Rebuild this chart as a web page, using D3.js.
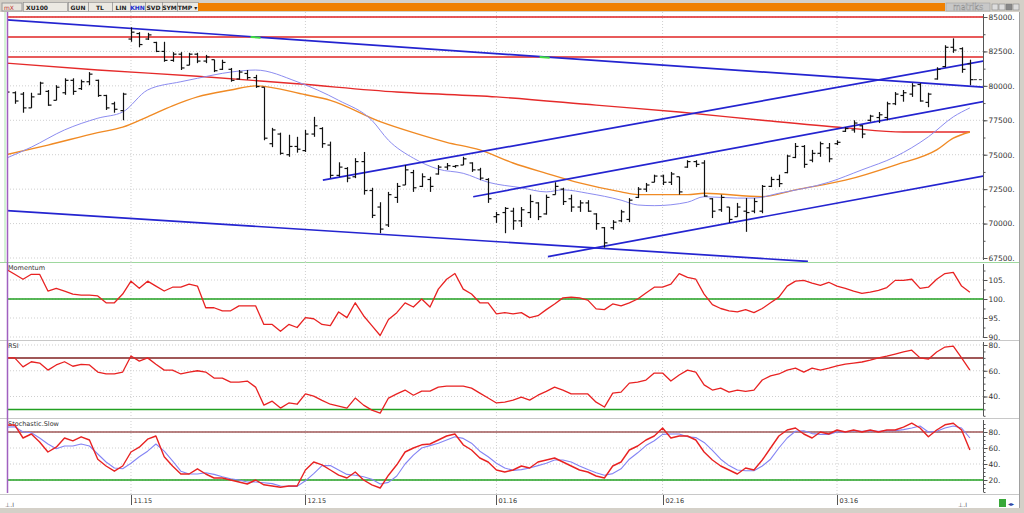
<!DOCTYPE html>
<html>
<head>
<meta charset="utf-8">
<script src="https://cdn.jsdelivr.net/npm/d3@7/dist/d3.min.js"></script>
<style>
    body {margin: 0; background: #d4d0c8; overflow: hidden;}
    svg {display: block; font-family: "DejaVu Sans", Verdana, sans-serif;}
</style>
</head>
<body>
<svg id="chart" width="1024" height="513"></svg>
<script>
// ---- data ----
var monthLabels = ["11.15", "12.15", "01.16", "02.16", "03.16"];
var monthIdx = [15, 36, 59, 79, 100];

var opens = [79350,79500,79400,78400,79400,79600,78950,79500,80400,79800,80300,80400,79300,78700,78200,
    83400,83800,83400,83150,82500,81850,82300,81500,82300,81800,81900,81200,81200,80500,80900,80600,79900,75800,76500,75000,
    75600,75300,76500,76900,75700,73500,74000,73400,74500,72400,71200,69900,71900,72800,73700,72700,73200,73600,74100,74150,
    74250,74400,73900,73200,70500,70800,70900,70200,70800,71500,70700,72100,72500,71800,71200,71500,70700,69700,69700,70200,
    70300,71900,72500,73000,73450,73000,73400,74100,74500,74400,71800,71000,71200,70500,70900,70900,70900,72700,73200,73700,
    74800,75600,74600,75100,75500,75800,76700,76800,77100,77500,77700,77700,78700,79300,79400,80100,78800,80500,81400,82800,
    82700,81600];
var highs = [79700,79600,79550,79500,80300,79700,80050,80550,80550,80450,81000,80450,79350,78850,79500,
    84250,83900,83850,83200,83200,82450,82450,82400,82400,82250,81900,81900,81300,81150,81150,80800,79900,76950,76600,76450,
    76300,76800,77750,77000,75950,74450,74100,74750,75200,72600,71550,72300,72950,74250,73900,73650,73400,74250,74400,74250,
    74850,74450,74050,73300,70850,71200,71150,71200,72100,71550,72100,73000,72600,72100,71700,71700,70750,69750,70250,71000,
    71850,72650,72950,73550,73550,73750,73400,74600,74600,74600,71850,72100,71200,71500,71850,71850,72800,73400,73550,75000,
    75850,75700,75350,75950,75850,76050,77000,77500,77150,77900,78100,78850,79550,79700,80200,80200,79500,81350,82950,83450,
    82800,81900];
var lows = [78950,78700,78050,78400,79350,78550,78950,79350,79350,79700,80050,79200,78250,78050,77500,
    83200,82800,83330,82450,81750,81750,81150,81500,81650,81650,81000,81150,80300,80450,80450,79850,76050,75550,75000,74850,
    75150,75200,76300,75500,73300,73400,73000,73300,72100,70400,69300,69750,71500,72800,72300,72650,72300,73550,73900,74050,
    74250,73750,73150,71500,70050,69300,69550,69750,70400,70250,70650,72100,71350,70850,70850,70850,69550,68250,69550,70100,
    70100,71850,72300,73000,72800,72800,72100,74050,74100,71950,70400,70850,70050,70500,69400,70750,70750,72650,72650,73650,
    74750,74050,74450,74850,74450,75700,76650,76600,76200,77400,77300,77500,78600,78850,79200,78850,78450,80450,81350,82400,
    80950,80050];
var closes = [79550,78900,78400,79200,80200,78600,79900,80400,79600,80300,80850,79300,78400,78300,79400,
    83900,83000,83700,82500,81850,82300,81300,82300,81800,82100,81100,81700,80400,81000,80600,79950,76200,76800,75100,75600,
    75400,76500,77100,75800,73500,74100,73300,74500,72400,70600,69600,72100,72700,73900,72600,73400,72700,74100,74200,74200,
    74700,73900,73300,71800,70650,71100,70200,71000,71600,70500,71900,72700,71600,71200,71500,70900,70000,68600,70100,70850,
    71700,72500,72800,73450,73000,73600,72300,74500,74300,72000,70900,71900,70300,71200,70800,71600,72700,73200,72900,74900,
    75600,74300,75100,75800,74700,75900,76900,77300,76500,77800,77900,78700,79400,79500,80000,78900,79400,81200,82800,82600,
    81200,80450];

// moving averages: [bar index] -> value
var maFastIdx = [0,3,7,11,14,17,21,23,27,30,35,40,44,46,49,52,55,58,62,65,67,70,74,76,78,82,84,88,90,93,99,103,107,111,114,116];
var maFast = [74750,75550,76800,77650,78100,79700,80300,80550,81000,81150,80300,78950,77500,76050,74750,73950,73650,73000,72600,72300,
    72450,72200,71700,71350,71300,71550,71950,71850,71850,72200,73000,73900,74850,76300,77750,78400];
var maMidIdx = [0,5,11,14,17,20,23,27,30,36,39,45,49,53,57,61,65,69,74,76,82,84,91,95,101,107,112,114,116];
var maMid = [75000,75700,76600,77000,77750,78550,79200,79700,80000,79350,78950,77400,76600,75900,75350,74400,73650,72950,72300,72100,
    72100,72200,71950,72450,73150,74250,75350,76200,76650];
var maSlowIdx = [0,11,23,35,47,59,71,81,91,101,108,116];
var maSlow = [81650,81150,80700,80150,79550,79200,78600,78100,77500,76950,76650,76650];

// trend lines and levels
var trendLines = [
    [[0, 84800], [117.6, 79900]],
    [[0, 70950], [96.5, 67250]],
    [[38.1, 73150], [117.6, 81800]],
    [[56.2, 71950], [117.6, 78850]],
    [[65.2, 67600], [117.6, 73450]]
];
var levels = [85000, 83550, 82100];

var momentum = [107.8,106.5,105.2,106.5,106.5,102.1,102.8,102.1,101.3,101.0,101.0,100.8,99.0,99.0,101.3,
    104.7,102.8,104.7,103.4,102.1,103.1,103.1,103.9,103.4,97.7,97.7,96.9,96.9,98.2,98.2,98.2,93.3,93.3,91.5,93.3,
    92.5,95.1,94.8,93.3,93.0,96.6,95.1,99.0,95.6,93.0,90.4,94.6,96.4,99.0,97.9,100.0,97.9,102.6,105.2,106.7,
    102.6,101.3,99.0,99.0,96.1,96.4,96.1,96.4,95.1,95.6,97.2,98.7,100.3,100.5,100.3,99.7,97.4,97.2,98.7,98.2,
    99.0,100.0,101.6,103.1,103.1,103.9,106.7,105.7,105.2,101.3,98.5,97.5,96.9,96.6,97.2,96.4,97.5,99.0,100.5,103.4,
    104.7,104.9,104.2,103.6,104.4,103.4,102.8,102.1,101.5,101.8,102.3,103.0,104.9,104.9,105.2,102.8,103.1,105.2,106.7,107.0,
    103.4,101.8];
var rsi = [70,70,63,67,66,60.5,64.5,67,63.5,65,64.5,59,57.5,57.5,59,
    71.5,67.5,70,65,60.5,60.5,57.5,59,60,59,54.3,54.3,51.2,51.2,52,47.3,33.3,36.4,31,35,
    34,42,40.3,37,34,32.5,31,38.8,33.3,29.4,27.1,38.8,42,45,41,44.2,44.2,47.3,48,48,
    48,46.5,42.6,38.8,35,35.6,37.2,39.5,37.2,41,44,47.3,45,42,42,42,35.6,31.8,42.6,43.4,
    50.4,51.2,52.8,58.2,58.2,52,56.7,60.5,59,49,45,46.5,43.4,45,44,45,52.8,56,57.5,60.5,
    62,59,62,60.5,62,63.7,65.2,66,66.8,68.3,70,71.4,73,74.6,76,70,69,74.6,78.4,79.2,
    70,60.5];
var stochK = [88.8,88.8,72.5,77.5,67.5,55,61,72.5,69,74,70,46,37.5,31,37.5,
    55,61,71,75,49,37.5,27.5,27.5,34,27.5,22.5,22.5,20,17.5,15,20,14,12.5,11,12.5,
    12.5,32.5,42.5,39,32.5,26,22.5,30,20,14,10,26,39,55,60,64,65,70,75,77.5,
    64,57.5,47.5,42.5,32.5,30,32.5,37.5,35,42.5,45,47.5,42.5,37.5,32.5,30,25,22.5,37.5,42.5,
    57.5,62.5,70,75,85,72.5,75,75,70,55,45,37.5,32.5,27.5,35,32.5,45,60,75,82.5,
    85,77.5,72.5,80,77.5,82.5,80,82.5,80,82.5,80,82.5,82.5,86,91,85,74,82.5,89,91,
    82.5,57.5];
var stochD = [86,86.5,80,79,72.5,65,59,62.5,62.5,65,62.5,52.5,42.5,35,34,
    41,49,56,65,56,44,31,27.5,27.5,29,27,24,21.5,20,17.5,17.5,16.5,15.5,12.5,12,
    12,19,28,38,38,32.5,27,26,24,21,15,17,25,40,51,60,63,66,70,74,
    72,66,56,49,41,35,32,33,35,38,41,45,45,42.5,37.5,33,29,26,28,34,
    46,54,63,69,77,77.5,77.5,74,73,67,57,46,38,32.5,31.5,31.5,37.5,46,60,72.5,
    81,81.5,78,77,77,80,80,81.5,81,81.5,81,81.5,81.5,83,85,87.5,80,81,85,87.5,
    85,72.5];

var mainTicks = [67500, 70000, 72500, 75000, 77500, 80000, 82500, 85000];
var momTicks = [90, 95, 100, 105];
var rsiTicks = [40, 60, 80];
var stochTicks = [20, 40, 60, 80];

// ---- layout ----
var svg = d3.select("#chart");
var plotL = 7, plotR = 983, frameR = 1019;
var nBars = closes.length;
var x = d3.scaleLinear().domain([0, nBars - 1]).range([6.4, 969.9]);
var barIdx = d3.range(nBars);

var panels = [
    {top: 12, bottom: 262, y: d3.scaleLinear().domain([67500, 85000]).range([258, 17]), ticks: mainTicks, minor: 1250},
    {top: 262, bottom: 340, y: d3.scaleLinear().domain([90, 105]).range([337, 280]), ticks: momTicks, minor: 2.5, label: "Momentum"},
    {top: 340, bottom: 418, y: d3.scaleLinear().domain([40, 80]).range([396.5, 345]), ticks: rsiTicks, minor: 5, label: "RSI"},
    {top: 418, bottom: 494, y: d3.scaleLinear().domain([20, 80]).range([480, 432]), ticks: stochTicks, minor: 5, label: "Stochastic.Slow"}
];

// window background
svg.append("rect").attr("x", 0).attr("y", 12).attr("width", frameR).attr("height", 496).attr("fill", "#fff");
svg.append("line").attr("x1", frameR + 0.5).attr("x2", frameR + 0.5).attr("y1", 12).attr("y2", 508)
    .attr("stroke", "#a0a0a0");

// toolbar
var bar = svg.append("g");
bar.append("rect").attr("x", 0).attr("y", 0).attr("width", 1024).attr("height", 12).attr("fill", "#d4d0c8");
bar.append("rect").attr("x", 2).attr("y", 3).attr("width", 20).attr("height", 8).attr("fill", "#e8e4dc").attr("stroke", "#999");
bar.append("text").attr("x", 4).attr("y", 9.5).attr("font-size", 6).attr("fill", "#c03030").text("mX");
var buttons = [[23, 44, "XU100"], [68, 20, "GUN"], [88, 24, "TL"], [112, 18, "LIN"], [130, 15, "KHN"], [145, 17, "SVD"], [162, 15, "SYM"], [177, 21, "TMP ▾"]];
buttons.forEach(function (b) {
    bar.append("rect").attr("x", b[0] + 0.5).attr("y", 2.5).attr("width", b[1]).attr("height", 9)
        .attr("fill", "#ece9e2").attr("stroke", "#8c8c8c").attr("stroke-width", 0.6);
    bar.append("text").attr("x", b[2] == "XU100" ? b[0] + 3 : b[0] + b[1] / 2).attr("y", 9.6)
        .attr("text-anchor", b[2] == "XU100" ? "start" : "middle")
        .attr("font-size", 6).attr("font-weight", "bold")
        .attr("fill", b[2] == "KHN" ? "#2030d0" : "#222").text(b[2]);
});
bar.append("rect").attr("x", 198).attr("y", 3).attr("width", 747).attr("height", 8).attr("fill", "#f08000");
bar.append("rect").attr("x", 946).attr("y", 3).attr("width", 44).attr("height", 8).attr("fill", "#c8c8c8").attr("stroke", "#999").attr("stroke-width", 0.5);
bar.append("text").attr("x", 968).attr("y", 10).attr("text-anchor", "middle").attr("font-size", 8)
    .attr("fill", "#eee").attr("stroke", "#888").attr("stroke-width", 0.4).text("matriks");
[992, 999, 1006, 1013].forEach(function (bx, i) {
    bar.append("rect").attr("x", bx).attr("y", 4).attr("width", 6).attr("height", 6)
        .attr("fill", i == 2 ? "#888" : "#ddd").attr("stroke", "#777").attr("stroke-width", 0.5);
});

// panels: frame, grid, axis
panels.forEach(function (p, k) {
    var g = svg.append("g");
    g.append("line").attr("x1", 0).attr("x2", frameR).attr("y1", p.bottom + 0.5).attr("y2", p.bottom + 0.5)
        .attr("stroke", k == 0 ? "#9ed89e" : "#c8c8c8");
    p.ticks.forEach(function (t) {
        g.append("line").attr("x1", plotL).attr("x2", plotR).attr("y1", p.y(t)).attr("y2", p.y(t))
            .attr("stroke", "#cfcfcf").attr("stroke-dasharray", "1,2");
    });
    monthIdx.forEach(function (m) {
        g.append("line").attr("x1", x(m)).attr("x2", x(m)).attr("y1", p.top).attr("y2", p.bottom)
            .attr("stroke", "#cfcfcf").attr("stroke-dasharray", "1,2");
    });
    // right axis
    g.append("line").attr("x1", plotR + 0.5).attr("x2", plotR + 0.5).attr("y1", p.top + 2).attr("y2", p.bottom - 2)
        .attr("stroke", "#555");
    var lo = p.y.invert(p.bottom - 2), hi = p.y.invert(p.top + 2);
    var minor = d3.range(Math.ceil(lo / p.minor) * p.minor, hi, p.minor);
    g.append("g").attr("transform", "translate(" + (plotR + 0.5) + ",0)")
        .call(d3.axisRight(p.y).tickValues(minor).tickSize(2).tickFormat(""))
        .call(function (a) { a.select(".domain").remove(); a.selectAll("line").attr("stroke", "#555"); });
    g.append("g").attr("transform", "translate(" + (plotR + 0.5) + ",0)")
        .call(d3.axisRight(p.y).tickValues(p.ticks).tickSize(4).tickPadding(1).tickFormat(function (d) { return d + "."; }))
        .call(function (a) {
            a.select(".domain").remove();
            a.selectAll("line").attr("stroke", "#555");
            a.selectAll("text").attr("font-size", 7.5).attr("fill", "#333").attr("font-family", "DejaVu Sans");
        });
    if (p.label) {
        g.append("text").attr("x", 8).attr("y", p.top + 8).attr("font-size", 6.5).attr("fill", "#333").text(p.label);
    }
    svg.append("clipPath").attr("id", "clip" + k).append("rect")
        .attr("x", plotL).attr("y", p.top + 1).attr("width", plotR - plotL).attr("height", p.bottom - p.top - 1);
    p.g = svg.append("g").attr("clip-path", "url(#clip" + k + ")");
});

function drawSeries(g, idx, vals, y, color, width, curve) {
    var line = d3.line().x(function (d, i) { return x(idx[i]); }).y(function (d) { return y(d); })
        .curve(curve || d3.curveLinear);
    g.append("path").datum(vals).attr("d", line).attr("fill", "none")
        .attr("stroke", color).attr("stroke-width", width).attr("stroke-linejoin", "round");
}

// ---- main price panel ----
var main = panels[0], ym = main.y, gm = main.g;
levels.forEach(function (v) {
    gm.append("line").attr("x1", plotL).attr("x2", plotR).attr("y1", ym(v)).attr("y2", ym(v))
        .attr("stroke", "#e02424").attr("stroke-width", 1.4);
});
drawSeries(gm, maSlowIdx, maSlow, ym, "#e52a2a", 1.4, d3.curveMonotoneX);
drawSeries(gm, maMidIdx, maMid, ym, "#f08a24", 1.4, d3.curveMonotoneX);
drawSeries(gm, maFastIdx, maFast, ym, "#8c8cf0", 1, d3.curveMonotoneX);
trendLines.forEach(function (t) {
    gm.append("line").attr("x1", x(t[0][0])).attr("y1", ym(t[0][1])).attr("x2", x(t[1][0])).attr("y2", ym(t[1][1]))
        .attr("stroke", "#2424d0").attr("stroke-width", 1.7);
});
// green marks where the top trend line crosses the levels
[83550, 82100].forEach(function (v) {
    var t = trendLines[0];
    var f = (v - t[0][1]) / (t[1][1] - t[0][1]);
    var xi = x(t[0][0] + f * (t[1][0] - t[0][0]));
    gm.append("line").attr("x1", xi - 5).attr("x2", xi + 5).attr("y1", ym(v)).attr("y2", ym(v) + 0.7)
        .attr("stroke", "#40e040").attr("stroke-width", 2);
});
var ohlc = gm.append("g").attr("stroke", "#111").attr("stroke-width", 1.2);
barIdx.forEach(function (i) {
    var cx = Math.round(x(i)) + 0.5;
    ohlc.append("line").attr("x1", cx).attr("x2", cx).attr("y1", ym(highs[i])).attr("y2", ym(lows[i]));
    ohlc.append("line").attr("x1", cx - 3).attr("x2", cx).attr("y1", ym(opens[i])).attr("y2", ym(opens[i]));
    ohlc.append("line").attr("x1", cx).attr("x2", cx + 3).attr("y1", ym(closes[i])).attr("y2", ym(closes[i]));
});
// last price marker
gm.append("line").attr("x1", x(nBars - 1) + 4).attr("x2", plotR).attr("y1", ym(closes[nBars - 1])).attr("y2", ym(closes[nBars - 1]))
    .attr("stroke", "#333").attr("stroke-dasharray", "3,2");

// ---- indicator panels ----
var pm = panels[1];
pm.g.append("line").attr("x1", plotL).attr("x2", plotR).attr("y1", pm.y(100)).attr("y2", pm.y(100))
    .attr("stroke", "#22a022").attr("stroke-width", 1.5);
drawSeries(pm.g, barIdx, momentum, pm.y, "#e82222", 1.3);

var pr = panels[2];
pr.g.append("line").attr("x1", plotL).attr("x2", plotR).attr("y1", pr.y(70)).attr("y2", pr.y(70))
    .attr("stroke", "#a05858").attr("stroke-width", 2);
pr.g.append("line").attr("x1", plotL).attr("x2", plotR).attr("y1", pr.y(30)).attr("y2", pr.y(30))
    .attr("stroke", "#22a022").attr("stroke-width", 1.5);
drawSeries(pr.g, barIdx, rsi, pr.y, "#e82222", 1.3);

var ps = panels[3];
ps.g.append("line").attr("x1", plotL).attr("x2", plotR).attr("y1", ps.y(80)).attr("y2", ps.y(80))
    .attr("stroke", "#a05858").attr("stroke-width", 1.5);
ps.g.append("line").attr("x1", plotL).attr("x2", plotR).attr("y1", ps.y(20)).attr("y2", ps.y(20))
    .attr("stroke", "#22a022").attr("stroke-width", 1.5);
drawSeries(ps.g, barIdx, stochD, ps.y, "#8484f4", 1.1);
drawSeries(ps.g, barIdx, stochK, ps.y, "#e82222", 1.4);

// left edge marker
svg.append("line").attr("x1", 7.5).attr("x2", 7.5).attr("y1", 12).attr("y2", 493).attr("stroke", "#a060c0").attr("stroke-width", 1.5);
svg.append("line").attr("x1", 5).attr("x2", 5).attr("y1", 12).attr("y2", 262).attr("stroke", "#a8e8a8");

// ---- date axis ----
var ax = svg.append("g");
monthIdx.forEach(function (m, i) {
    var mx = Math.round(x(m)) + 0.5;
    ax.append("line").attr("x1", mx).attr("x2", mx).attr("y1", 495).attr("y2", 505).attr("stroke", "#555");
    ax.append("text").attr("x", mx + 2).attr("y", 503).attr("font-size", 6.5).attr("fill", "#333").text(monthLabels[i]);
});
ax.append("text").attr("x", 5).attr("y", 507).attr("font-size", 6).attr("fill", "#555").text("⊥.I");
ax.append("text").attr("x", 958).attr("y", 507).attr("font-size", 6).attr("fill", "#555").text("⊥.I");
ax.append("rect").attr("x", 999).attr("y", 499).attr("width", 7).attr("height", 8).attr("fill", "#38a838");
ax.append("text").attr("x", 1008).attr("y", 506).attr("font-size", 6).attr("fill", "#2040a0").text("◂▸");
svg.append("rect").attr("x", 0).attr("y", 508).attr("width", 1024).attr("height", 5).attr("fill", "#d4d0c8");
</script>
</body>
</html>
